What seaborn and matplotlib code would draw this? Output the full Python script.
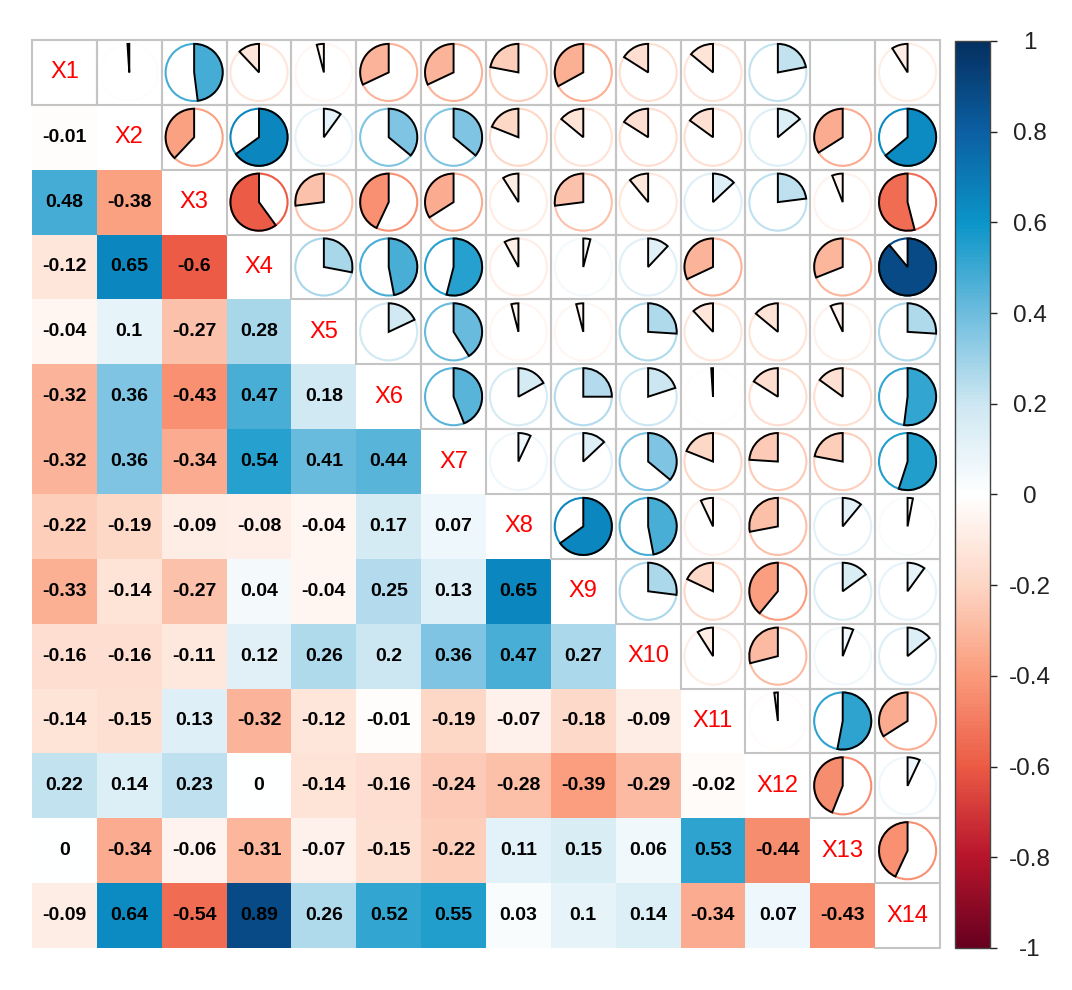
import numpy as np
import pandas as pd
import matplotlib
matplotlib.use("Agg")
import matplotlib.pyplot as plt
import seaborn as sns
from matplotlib.colors import LinearSegmentedColormap
from matplotlib.patches import Wedge, Circle, Rectangle

variables = [f"X{i}" for i in range(1, 15)]

# lower triangle of the correlation matrix, row X2 .. X14
lower_rows = [
    [-0.01],
    [0.48, -0.38],
    [-0.12, 0.65, -0.6],
    [-0.04, 0.1, -0.27, 0.28],
    [-0.32, 0.36, -0.43, 0.47, 0.18],
    [-0.32, 0.36, -0.34, 0.54, 0.41, 0.44],
    [-0.22, -0.19, -0.09, -0.08, -0.04, 0.17, 0.07],
    [-0.33, -0.14, -0.27, 0.04, -0.04, 0.25, 0.13, 0.65],
    [-0.16, -0.16, -0.11, 0.12, 0.26, 0.2, 0.36, 0.47, 0.27],
    [-0.14, -0.15, 0.13, -0.32, -0.12, -0.01, -0.19, -0.07, -0.18, -0.09],
    [0.22, 0.14, 0.23, 0, -0.14, -0.16, -0.24, -0.28, -0.39, -0.29, -0.02],
    [0, -0.34, -0.06, -0.31, -0.07, -0.15, -0.22, 0.11, 0.15, 0.06, 0.53, -0.44],
    [-0.09, 0.64, -0.54, 0.89, 0.26, 0.52, 0.55, 0.03, 0.1, 0.14, -0.34, 0.07, -0.43],
]

cbar_ticks = [-1, -0.8, -0.6, -0.4, -0.2, 0, 0.2, 0.4, 0.6, 0.8, 1]

# palette anchors (value -> colour), red negative / blue positive
cmap_values = [-1, -0.8, -0.6, -0.4, -0.2, 0, 0.2, 0.4, 0.6, 0.8, 1]
cmap_colors = ["#67001F", "#B8152B", "#EC5B45", "#FA9B7B", "#FDD6C4", "#FFFFFF",
               "#CDE7F2", "#6EBDDE", "#0B95C8", "#0B60A3", "#053061"]

n = len(variables)
corr = np.eye(n)
for i, row in enumerate(lower_rows, start=1):
    for j, v in enumerate(row):
        corr[i, j] = corr[j, i] = v
df = pd.DataFrame(corr, index=variables, columns=variables)

cmap = LinearSegmentedColormap.from_list(
    "corr", [((v + 1) / 2, c) for v, c in zip(cmap_values, cmap_colors)])

plt.rcParams["font.family"] = ["Liberation Sans", "DejaVu Sans"]

fig = plt.figure(figsize=(10.72, 9.9), dpi=100)
ax = fig.add_axes([32 / 1072, 42 / 990, 908 / 1072, 908 / 990])
cax = fig.add_axes([955 / 1072, 42 / 990, 35 / 1072, 907 / 990])

mask = np.triu(np.ones((n, n), dtype=bool))
annot = np.array([[f"{v:g}" for v in row] for row in corr])

sns.heatmap(df, mask=mask, cmap=cmap, vmin=-1, vmax=1, annot=annot, fmt="",
            annot_kws=dict(fontsize=14, fontweight="bold", color="black"),
            xticklabels=False, yticklabels=False, ax=ax, cbar_ax=cax)

grid_kw = dict(fill=False, edgecolor="#C4C4C4", lw=1.5, clip_on=False, zorder=3)
r = 0.44
for i in range(n):
    for j in range(i + 1, n):
        v = corr[i, j]
        cx, cy = j + 0.5, i + 0.5
        col = cmap((v + 1) / 2)
        ax.add_patch(Rectangle((j, i), 1, 1, **grid_kw))
        ax.add_patch(Circle((cx, cy), r, fill=False, edgecolor=col, lw=1.5))
        if v == 0:
            continue
        if v > 0:
            t1, t2 = -90, -90 + 360 * v
        else:
            t1, t2 = -90 + 360 * v, -90
        ax.add_patch(Wedge((cx, cy), r, t1, t2, facecolor=col,
                           edgecolor="black", lw=1.4))

# borders around the first and last diagonal cells
ax.add_patch(Rectangle((0, 0), 1, 1, **grid_kw))
ax.plot([n, n, n - 1], [n - 1, n, n], color="#C4C4C4", lw=1.5, clip_on=False, zorder=3)

for i, name in enumerate(variables):
    ax.text(i + 0.5, i + 0.5, name, color="red", fontsize=17,
            ha="center", va="center")

ax.set_xticks([])
ax.set_yticks([])

cbar = ax.collections[0].colorbar
cbar.set_ticks(cbar_ticks)
cbar.set_ticklabels([f"{t:g}" for t in cbar_ticks])
cbar.outline.set_edgecolor("#444444")
cbar.outline.set_linewidth(1)
cax.tick_params(length=5, width=1, pad=23.5, labelsize=17.5, colors="#222222")
for lbl in cax.get_yticklabels():
    lbl.set_horizontalalignment("center")

fig.savefig("out.png", dpi=100)
